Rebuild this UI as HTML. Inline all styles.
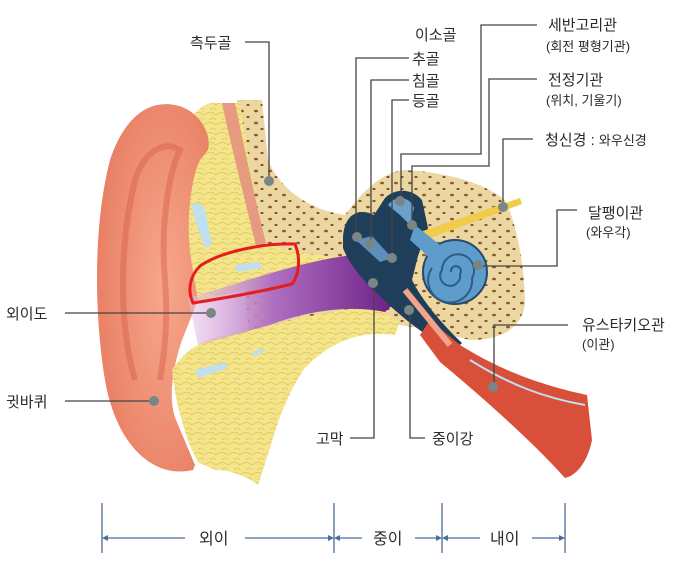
<!DOCTYPE html>
<html><head><meta charset="utf-8"><style>
html,body{margin:0;padding:0;background:#fff;}
svg{display:block;}
text{font-family:"Liberation Sans","Noto Sans CJK KR","NanumGothic",sans-serif;fill:#2a2a2a;}
.l{font-size:15px;}
.s{font-size:13px;}
</style></head><body>
<svg width="673" height="572" viewBox="0 0 673 572" xmlns="http://www.w3.org/2000/svg">
<defs>
<linearGradient id="pg" x1="0" y1="0" x2="1" y2="0">
<stop offset="0" stop-color="#e8c0e8" stop-opacity="0.5"/><stop offset="0.4" stop-color="#b070c0"/><stop offset="1" stop-color="#6a1d85"/></linearGradient>
<radialGradient id="eg" cx="0.6" cy="0.5" r="0.7"><stop offset="0" stop-color="#f7a78d"/><stop offset="1" stop-color="#e67a5e"/></radialGradient>
<pattern id="dots" width="14" height="12" patternUnits="userSpaceOnUse">
<rect width="14" height="12" fill="#ecd7a2"/><ellipse cx="4" cy="3" rx="2" ry="1.3" fill="#8b5a2b"/><ellipse cx="10" cy="9" rx="1.6" ry="1" fill="#7a4a22"/></pattern>
<pattern id="fat" width="12" height="10" patternUnits="userSpaceOnUse">
<rect width="12" height="10" fill="#f5e58a"/><path d="M0 5 Q6 0 12 5 M6 10 Q9 6 12 10" stroke="#d9c35a" fill="none" stroke-width="0.8"/></pattern>
</defs>

<!-- bone region -->
<path d="M237,100 L262,100 L268,160 C280,190 310,210 345,215 C360,195 380,172 405,170 C440,172 480,180 505,200 C520,230 525,280 525,305 C520,330 500,340 470,340 L430,330 L400,325 C360,316 320,312 290,322 L250,345 L240,240 Z" fill="url(#dots)"/>
<!-- upper yellow fat -->
<path d="M177,147 C185,125 195,108 210,103 L240,103 L262,243 C290,252 320,256 350,258 L300,276 L195,302 C185,250 178,190 177,147 Z" fill="url(#fat)"/>
<!-- muscle -->
<path d="M222,103 L235,103 C245,150 255,200 266,243 L256,246 C245,200 232,150 222,103 Z" fill="#e69a80"/>
<!-- cartilage blue -->
<path d="M192,205 C198,200 205,205 206,215 L212,245 L205,248 L195,220 Z" fill="#bfe0f0"/>
<path d="M235,265 L260,262 L262,268 L238,272 Z" fill="#bfe0f0"/>
<!-- pinna -->
<path d="M193,470 C150,480 115,440 105,380 C95,320 92,230 110,160 C125,115 150,100 175,105 C200,110 212,135 208,150 L200,160 C190,180 185,230 192,265 L198,300 L182,340 C172,370 168,400 176,420 L195,465 Z" fill="url(#eg)"/>
<path d="M135,380 C120,330 118,250 135,180 C145,150 165,140 180,150 C170,170 160,220 165,280 C168,320 165,350 160,380" fill="none" stroke="#d8634a" stroke-width="6" opacity="0.5"/>
<!-- lower fat -->
<path d="M172,370 C185,350 200,340 230,335 L300,318 L370,305 L400,322 L395,335 C360,330 330,342 305,368 C288,392 278,420 270,448 L258,485 C245,475 230,470 215,470 L198,462 C185,440 175,400 172,370 Z" fill="url(#fat)"/>
<path d="M195,370 L225,362 L228,368 L198,378 Z" fill="#bfe0f0"/>
<path d="M252,352 L262,348 L264,352 L254,357 Z" fill="#bfe0f0"/>
<!-- canal -->
<path d="M188,298 C240,283 300,262 345,256 C370,254 388,275 398,300 L385,312 C350,305 310,310 270,325 L198,345 Z" fill="url(#pg)"/>
<!-- middle ear -->
<path d="M343,240 C343,215 358,207 374,215 L385,198 C395,188 412,188 422,200 L428,228 L418,256 L412,280 C422,300 440,322 462,343 L452,352 C420,332 395,312 380,296 C362,280 348,262 343,248 Z" fill="#1f3e5a"/>
<path d="M388,205 C395,195 410,196 414,208 L410,225 L400,215 Z" fill="#6aa0cc"/>
<path d="M356,240 L372,236 L392,258 L380,262 Z" fill="#5d8fbc"/>
<!-- nerve -->
<path d="M420,232 L520,198 L522,204 L425,240 Z" fill="#f0cc4a"/>
<!-- cochlea -->
<circle cx="455" cy="272" r="32" fill="#5e9ccc" stroke="#284a6a" stroke-width="2"/>
<path d="M455,272 m-4,0 a5,5 0 1,1 9,2 a10,10 0 1,1 -18,-4 a16,16 0 1,1 30,8 a22,22 0 1,1 -40,-10" fill="none" stroke="#2e5c86" stroke-width="2"/>
<path d="M415,225 L440,245 L430,258 L410,240 Z" fill="#5e9ccc"/>
<!-- eustachian tube -->
<path d="M430,320 L460,345 C500,370 540,385 587,395 L592,440 C588,460 578,475 565,478 C540,450 500,412 440,362 L420,335 Z" fill="#d9503a"/>
<path d="M470,360 C510,385 545,398 585,405" fill="none" stroke="#bfe0f0" stroke-width="2"/>
<path d="M405,290 L450,345" stroke="#f2a38e" stroke-width="6"/>
<!-- red circle -->
<path d="M200,266 C220,252 262,243 295,244 C301,258 299,275 292,284 C260,292 225,298 193,303 C187,290 190,276 200,266 Z" fill="none" stroke="#e41e1e" stroke-width="3"/>

<!-- connectors -->
<g stroke="#444" stroke-width="1.3" fill="none">
<path d="M245,42 H269 V181"/>
<path d="M409,58 H356 V237"/>
<path d="M409,80 H371 V244"/>
<path d="M409,100 H392 V258"/>
<path d="M537,25 H481 V154 H401 V201"/>
<path d="M537,79 H489 V166 H412 V225"/>
<path d="M533,139 H503 V207"/>
<path d="M577,210 H557 V266 H478"/>
<path d="M65,313 H211"/>
<path d="M65,401 H154"/>
<path d="M350,438 H374 V283"/>
<path d="M425,438 H410 V310"/>
<path d="M568,325 H494 V387"/>
</g>
<g fill="#7a8585">
<circle cx="269" cy="181" r="5"/><circle cx="357" cy="237" r="5"/><circle cx="370" cy="244" r="5"/><circle cx="392" cy="258" r="5"/>
<circle cx="400" cy="201" r="5"/><circle cx="412" cy="225" r="5"/><circle cx="503" cy="207" r="5"/><circle cx="478" cy="265" r="5"/>
<circle cx="373" cy="283" r="5"/><circle cx="211" cy="313" r="5"/><circle cx="154" cy="401" r="5"/><circle cx="409" cy="310" r="5"/><circle cx="493" cy="387" r="5"/>
</g>

<!-- labels -->
<text class="l" x="190" y="48">측두골</text>
<text class="l" x="415" y="40">이소골</text>
<text class="l" x="412" y="64">추골</text>
<text class="l" x="412" y="86">침골</text>
<text class="l" x="412" y="106">등골</text>
<text class="l" x="548" y="30">세반고리관</text>
<text class="s" x="546" y="51">(회전 평형기관)</text>
<text class="l" x="548" y="85">전정기관</text>
<text class="s" x="546" y="105">(위치, 기울기)</text>
<text class="l" x="545" y="145">청신경 : <tspan class="s">와우신경</tspan></text>
<text class="l" x="588" y="218">달팽이관</text>
<text class="s" x="586" y="237">(와우각)</text>
<text class="l" x="582" y="330">유스타키오관</text>
<text class="s" x="582" y="349">(이관)</text>
<text class="l" x="6" y="319">외이도</text>
<text class="l" x="6" y="407">귓바퀴</text>
<text class="l" x="316" y="444">고막</text>
<text class="l" x="432" y="444">중이강</text>

<!-- bottom scale -->
<g stroke="#4a6e9a" stroke-width="1.3" fill="none">
<path d="M102,503 V553 M334,503 V553 M442,503 V553 M565,503 V553"/>
<path d="M104,538 H185 M245,538 H332 M336,538 H362 M415,538 H440 M444,538 H480 M532,538 H563"/>
</g>
<g fill="#4a6e9a">
<path d="M102,538 l6,-3 v6 z M334,538 l-6,-3 v6 z M334,538 l6,-3 v6 z M442,538 l-6,-3 v6 z M442,538 l6,-3 v6 z M565,538 l-6,-3 v6 z"/>
</g>
<text class="l" x="199" y="544" style="font-size:16px">외이</text>
<text class="l" x="373" y="544" style="font-size:16px">중이</text>
<text class="l" x="490" y="544" style="font-size:16px">내이</text>
</svg>
</body></html>
